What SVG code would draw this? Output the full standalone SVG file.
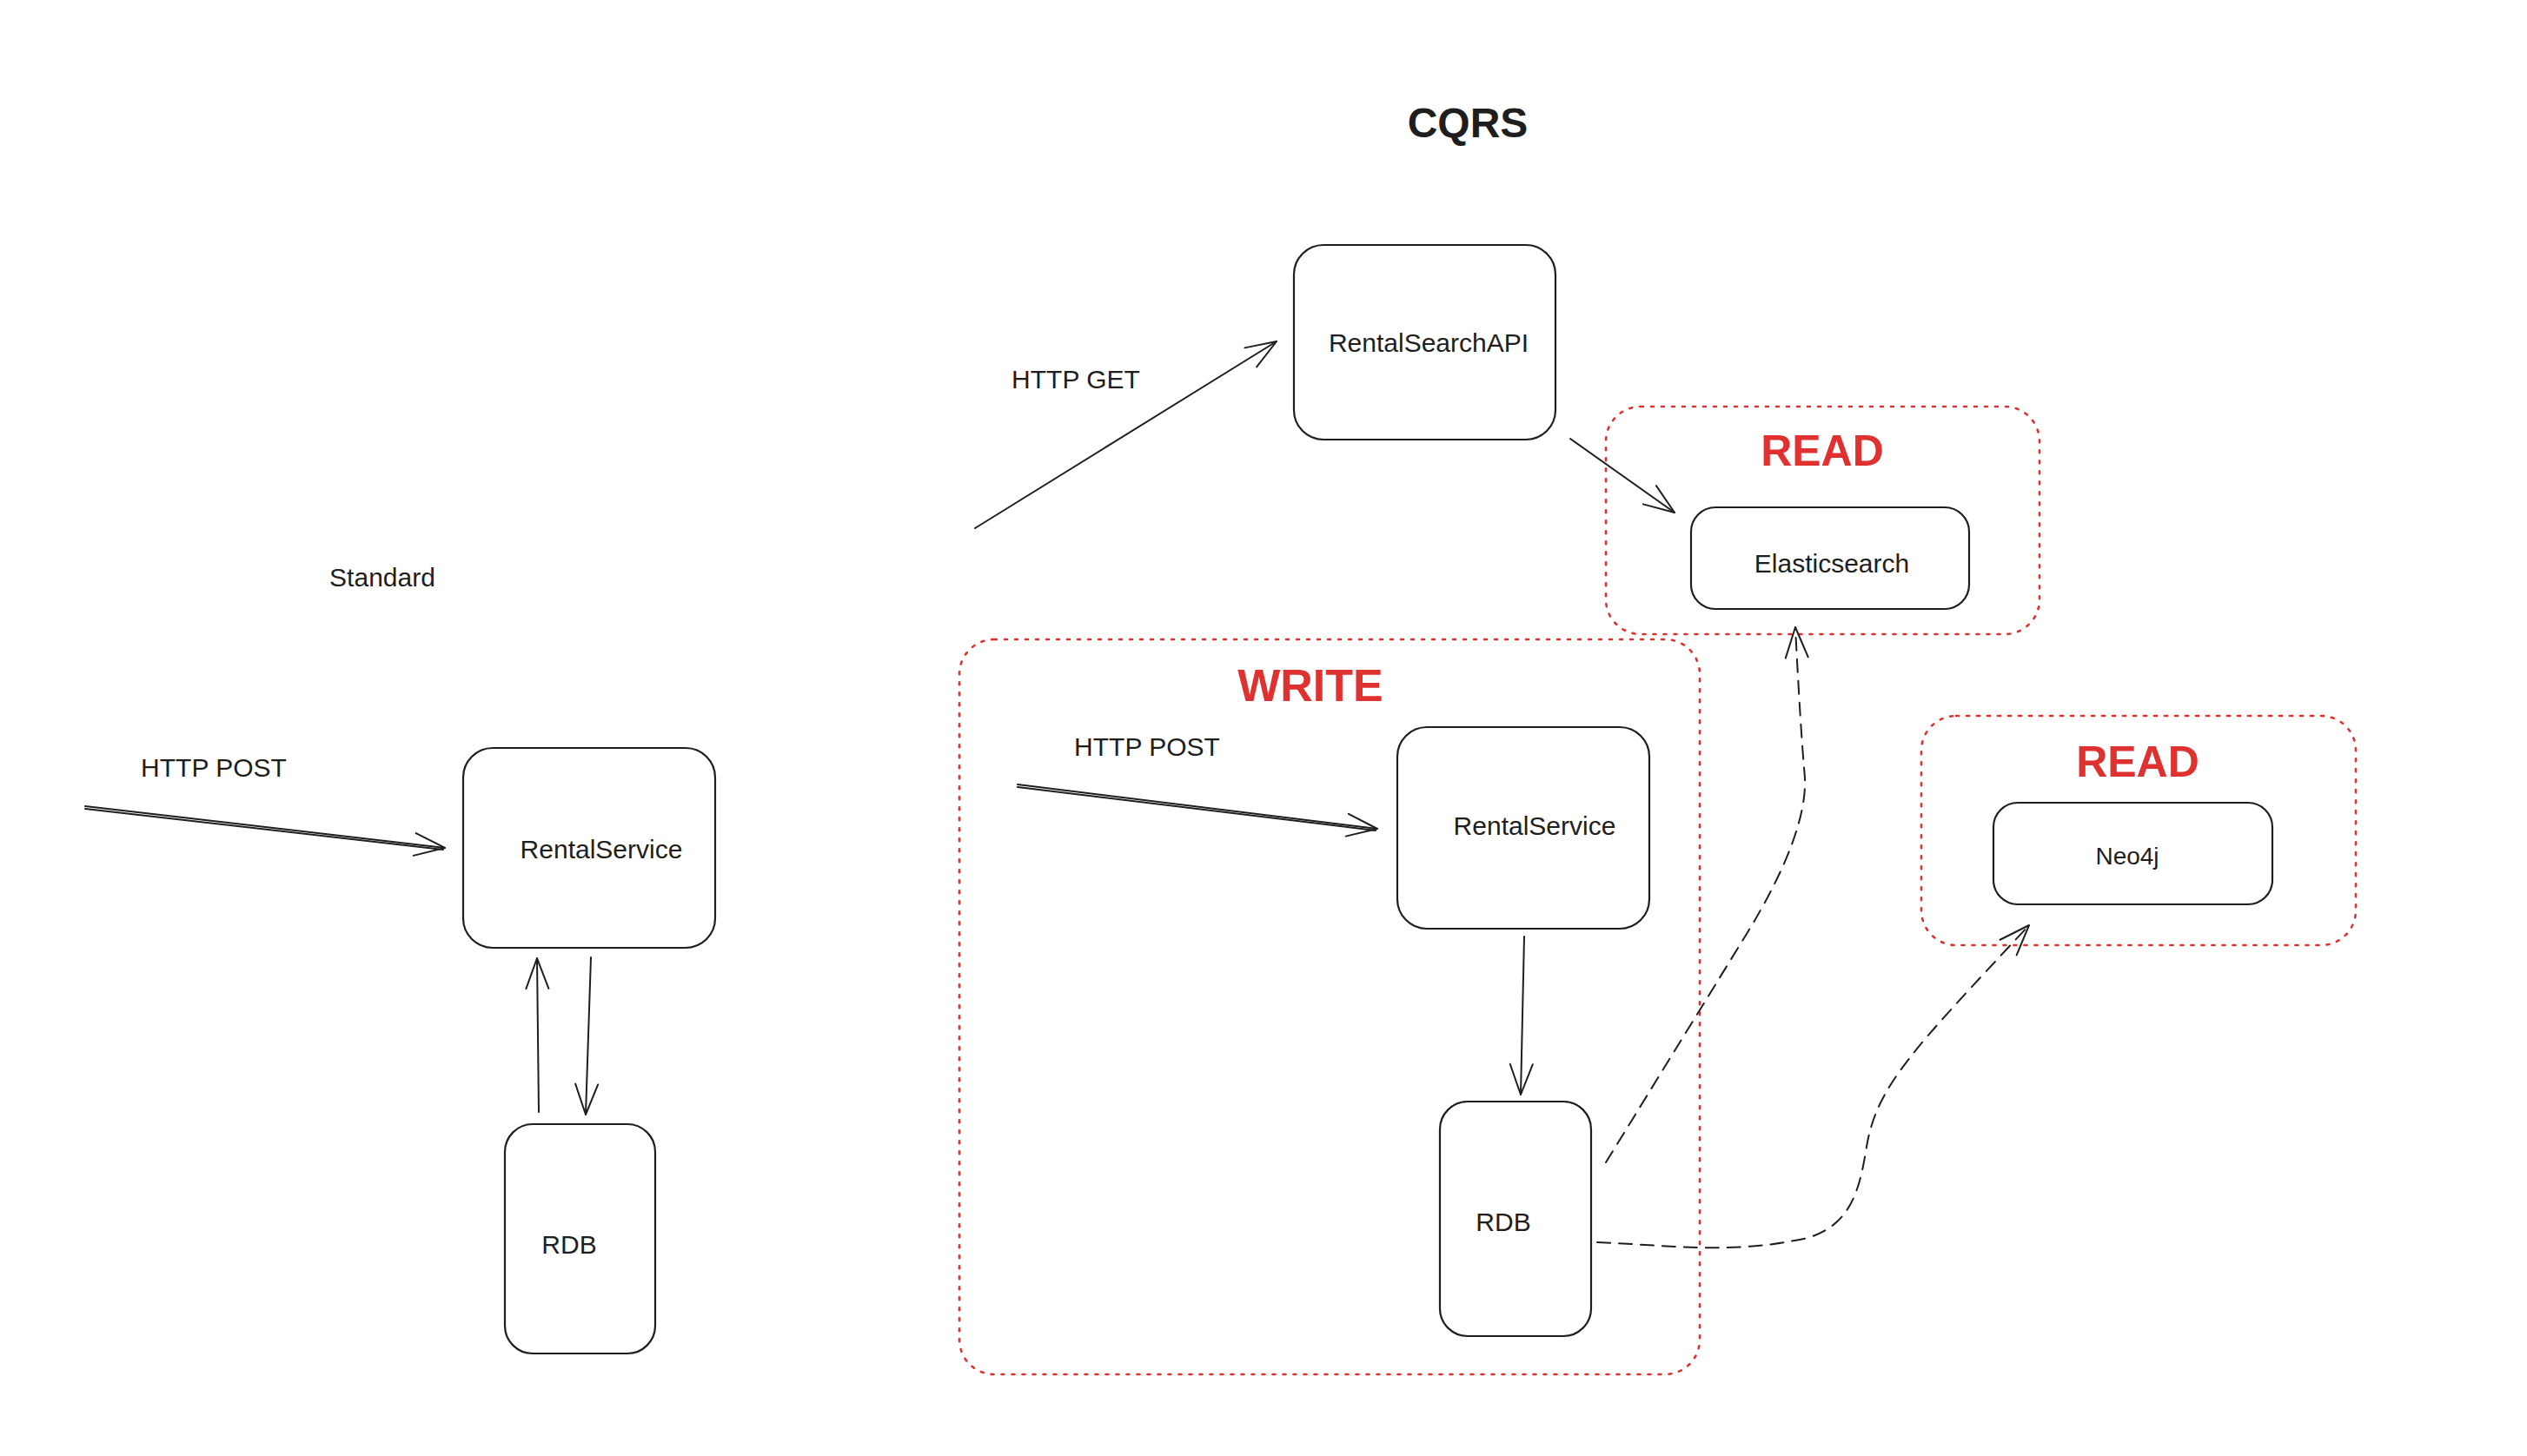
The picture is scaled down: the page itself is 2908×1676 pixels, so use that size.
<svg xmlns="http://www.w3.org/2000/svg" width="2908" height="1676" viewBox="0 0 2908 1676">
<style>
  .bg{fill:#ffffff}
  .node{fill:none;stroke:#1e1e1e;stroke-width:2.2}
  .group{fill:none;stroke:#e03131;stroke-width:2.6;stroke-dasharray:3 9;stroke-linecap:round}
  .t{font-family:"Liberation Sans",Arial,sans-serif;fill:#1e1e1e;text-anchor:middle}
  .lbl{font-size:30px}
  .small{font-size:28px}
  .title{font-size:48px;font-weight:bold}
  .red{font-family:"Liberation Sans",Arial,sans-serif;fill:#e03131;font-weight:bold;text-anchor:middle}
  .edge{fill:none;stroke:#1e1e1e;stroke-width:2;stroke-linecap:round}
  .dash{stroke-dasharray:15 10}
</style>
<defs>
  <marker id="arrow" markerUnits="userSpaceOnUse" markerWidth="80" markerHeight="80" viewBox="-50 -40 60 80" refX="0" refY="0" orient="auto">
    <path d="M-35,-13 L0,0 L-35,13" fill="none" stroke="#1e1e1e" stroke-width="2" stroke-linecap="round" stroke-linejoin="round"/>
  </marker>
</defs>
<rect class="bg" x="0" y="0" width="2908" height="1676"/>

<g id="title">
  <text class="t title" x="1689" y="158">CQRS</text>
</g>
<g id="label-standard">
  <text class="t lbl" x="440" y="675">Standard</text>
</g>

<g id="group-read-es">
  <rect class="group" x="1848" y="468" width="499" height="262" rx="40"/>
  <text class="red" font-size="50" x="2097" y="536">READ</text>
</g>
<g id="group-write">
  <rect class="group" x="1104" y="736" width="852" height="846" rx="40"/>
  <text class="red" font-size="52" x="1508" y="807">WRITE</text>
</g>
<g id="group-read-neo">
  <rect class="group" x="2211" y="824" width="500" height="264" rx="40"/>
  <text class="red" font-size="50" x="2460" y="894">READ</text>
</g>

<g id="node-rentalsearchapi">
  <rect class="node" x="1489" y="282" width="301" height="224" rx="34"/>
  <text class="t lbl" x="1644" y="405">RentalSearchAPI</text>
</g>
<g id="node-elasticsearch">
  <rect class="node" x="1946" y="584" width="320" height="117" rx="28"/>
  <text class="t lbl" x="2108" y="659">Elasticsearch</text>
</g>
<g id="node-rentalservice-write">
  <rect class="node" x="1608" y="837" width="290" height="232" rx="34"/>
  <text class="t lbl" x="1766" y="961">RentalService</text>
</g>
<g id="node-rdb-write">
  <rect class="node" x="1657" y="1268" width="174" height="270" rx="32"/>
  <text class="t lbl" x="1730" y="1417">RDB</text>
</g>
<g id="node-neo4j">
  <rect class="node" x="2294" y="924" width="321" height="117" rx="28"/>
  <text class="t small" x="2448" y="995">Neo4j</text>
</g>
<g id="node-rentalservice-std">
  <rect class="node" x="533" y="861" width="290" height="230" rx="34"/>
  <text class="t lbl" x="692" y="988">RentalService</text>
</g>
<g id="node-rdb-std">
  <rect class="node" x="581" y="1294" width="173" height="264" rx="32"/>
  <text class="t lbl" x="655" y="1443">RDB</text>
</g>

<g id="connectors">
  <path class="edge" d="M1122,608 L1469,393" marker-end="url(#arrow)"/>
  <text class="t lbl" x="1238" y="447">HTTP GET</text>
  <path class="edge" d="M1807,505 L1927,590" marker-end="url(#arrow)"/>
  <path class="edge" d="M1171,903 L1585,954" marker-end="url(#arrow)"/>
  <path class="edge" d="M1171,906 L1583,956" stroke-width="1.2"/>
  <text class="t lbl" x="1320" y="870">HTTP POST</text>
  <path class="edge" d="M1754,1078 L1750,1260" marker-end="url(#arrow)"/>
  <path class="edge dash" d="M1848,1338 L2010,1075 Q2080,960 2077,895 Q2072,840 2066,722" marker-end="url(#arrow)"/>
  <path class="edge dash" d="M1838,1430 C1920,1433 1990,1445 2080,1425 C2130,1410 2140,1370 2148,1320 C2160,1250 2200,1210 2335,1065" marker-end="url(#arrow)"/>
  <path class="edge" d="M98,928 L512,976" marker-end="url(#arrow)"/>
  <path class="edge" d="M98,931 L510,978" stroke-width="1.2"/>
  <text class="t lbl" x="246" y="894">HTTP POST</text>
  <path class="edge" d="M620,1280 L618,1103" marker-end="url(#arrow)"/>
  <path class="edge" d="M680,1102 L674,1283" marker-end="url(#arrow)"/>
</g>
</svg>
